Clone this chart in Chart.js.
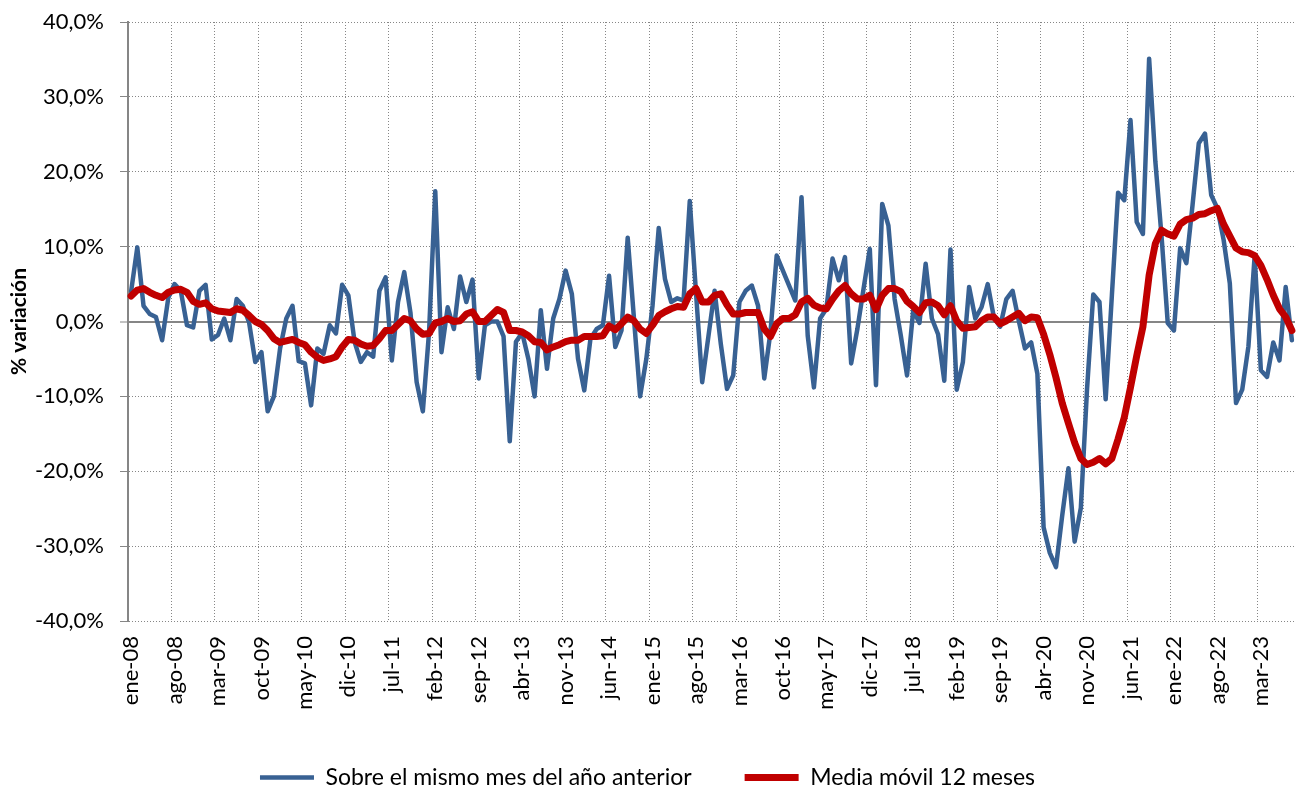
<!DOCTYPE html>
<html>
<head>
<meta charset="utf-8">
<script src="https://cdn.jsdelivr.net/npm/chart.js@4/dist/chart.umd.min.js"></script>
<style>
  body { margin: 0; background: #fff; }
</style>
</head>
<body>
<canvas id="variacionChart" width="1304" height="789"></canvas>
<script>
// Month names and years used to build the category labels (ene-08 .. ago-23)
const monthNames = ['ene', 'feb', 'mar', 'abr', 'may', 'jun', 'jul', 'ago', 'sep', 'oct', 'nov', 'dic'];
const firstYear = 2008;
const monthCount = 188;
const labelStep = 7; // one label every 7 months

// % variation over the same month of the previous year
const sameMonthValues = [
    4.0, 9.9, 2.1, 1.0, 0.6, -2.5, 3.2, 5.0, 4.1, -0.5, -0.8, 4.1,
    4.9, -2.4, -1.8, 0.4, -2.5, 3.0, 2.1, -0.1, -5.4, -4.1, -12.0, -10.0,
    -3.6, 0.4, 2.1, -5.3, -5.6, -11.2, -3.6, -4.3, -0.5, -1.6, 4.9, 3.5,
    -2.7, -5.4, -4.1, -4.7, 4.1, 5.9, -5.2, 2.6, 6.6, 1.2, -8.1, -12.0,
    -1.4, 17.4, -4.1, 1.9, -1.0, 6.0, 2.6, 5.6, -7.6, -0.5, 0.0, 0.0,
    -2.0, -16.0, -2.7, -1.5, -5.0, -10.0, 1.5, -6.3, 0.4, 3.0, 6.8, 3.7,
    -5.0, -9.2, -2.3, -1.0, -0.5, 6.1, -3.4, -1.2, 11.2, 0.5, -10.0, -5.0,
    2.1, 12.5, 5.7, 2.6, 3.1, 2.8, 16.1, 3.9, -8.1, -2.0, 4.1, -3.0,
    -9.0, -7.2, 2.6, 4.1, 4.8, 2.1, -7.6, -1.4, 8.8, 6.8, 4.8, 2.8,
    16.6, -1.9, -8.8, 0.4, 1.7, 8.4, 5.5, 8.6, -5.6, -1.0, 4.4, 9.7,
    -8.5, 15.7, 12.8, 3.0, -1.9, -7.2, 1.5, -0.2, 7.7, 0.4, -1.7, -7.9,
    9.6, -9.1, -5.4, 4.6, 0.4, 1.9, 5.0, 0.5, -0.7, 3.0, 4.1, 0.1,
    -3.6, -2.8, -7.0, -27.5, -30.9, -32.8, -25.9, -19.6, -29.4, -24.9, -9.0, 3.6,
    2.6, -10.4, 3.5, 17.2, 16.2, 26.9, 13.3, 11.7, 35.1, 21.4, 11.4, -0.2,
    -1.2, 9.8, 7.8, 15.6, 23.8, 25.1, 16.9, 15.1, 10.9, 5.1, -10.9, -9.1,
    -3.3, 8.8, -6.5, -7.4, -2.8, -5.2, 4.6, -2.5
];

// 12-month moving average
const movingAvgValues = [
    3.4, 4.2, 4.4, 3.9, 3.5, 3.2, 3.9, 4.2, 4.3, 3.9, 2.7, 2.3,
    2.5, 1.7, 1.4, 1.3, 1.2, 1.7, 1.5, 0.8, 0.0, -0.4, -1.2, -2.3,
    -2.8, -2.6, -2.4, -2.8, -3.1, -4.1, -4.8, -5.2, -5.0, -4.7, -3.4, -2.4,
    -2.5, -3.0, -3.3, -3.2, -2.3, -1.2, -1.2, -0.4, 0.4, 0.1, -1.0, -1.7,
    -1.6, -0.2, 0.0, 0.4, 0.0, 0.1, 1.0, 1.3, 0.0, 0.0, 0.8, 1.6,
    1.2, -1.2, -1.2, -1.4, -1.9, -2.7, -2.8, -3.8, -3.4, -3.1, -2.7, -2.5,
    -2.5, -2.0, -2.0, -2.0, -1.9, -0.6, -1.1, -0.3, 0.6, 0.1, -1.0, -1.6,
    -0.5, 0.8, 1.3, 1.7, 2.0, 1.9, 3.7, 4.4, 2.6, 2.6, 3.5, 3.7,
    2.2, 1.0, 1.0, 1.2, 1.2, 1.2, -1.0, -2.0, -0.3, 0.4, 0.4, 0.9,
    2.6, 3.1, 2.2, 1.8, 1.7, 3.0, 4.1, 4.8, 3.7, 3.0, 3.0, 3.5,
    1.6, 3.5, 4.4, 4.4, 4.0, 2.7, 2.0, 1.2, 2.5, 2.6, 2.1, 0.9,
    2.1, 0.1, -0.9, -0.8, -0.7, 0.1, 0.6, 0.6, -0.3, 0.1, 0.6, 1.1,
    0.1, 0.6, 0.5, -1.7, -4.4, -7.5, -10.9, -13.6, -16.2, -18.3, -19.1, -18.8,
    -18.3, -19.0, -18.3, -15.7, -12.8, -8.8, -4.6, -0.7, 6.2, 10.4, 12.2, 11.7,
    11.4, 13.0, 13.6, 13.8, 14.3, 14.4, 14.8, 15.1, 13.0, 11.4, 9.8, 9.3,
    9.2, 8.8, 7.5, 5.6, 3.5, 1.7, 0.6, -1.2
];

// y axis range (in %)
const yMin = -40;
const yMax = 40;
const yStep = 10;

// Build the month labels
const categories = [];
for (let i = 0; i < monthCount; i++) {
    const yy = String((firstYear + Math.floor(i / 12)) % 100).padStart(2, '0');
    categories.push(monthNames[i % 12] + '-' + yy);
}

const gridGray = '#868686';
const fontFamily = 'Lato, "Liberation Sans", sans-serif';

document.addEventListener('DOMContentLoaded', function () {
    const ctx = document.getElementById('variacionChart').getContext('2d');

    new Chart(ctx, {
        type: 'line',
        data: {
            labels: categories,
            datasets: [
                {
                    label: 'Sobre el mismo mes del año anterior',
                    data: sameMonthValues,
                    borderColor: '#386193',
                    backgroundColor: '#386193',
                    borderWidth: 4.5,
                    pointRadius: 0,
                    tension: 0,
                    borderJoinStyle: 'round',
                    borderCapStyle: 'round',
                    order: 1
                },
                {
                    label: 'Media móvil 12 meses',
                    data: movingAvgValues,
                    borderColor: '#C00000',
                    backgroundColor: '#C00000',
                    borderWidth: 7,
                    pointRadius: 0,
                    tension: 0,
                    borderJoinStyle: 'round',
                    borderCapStyle: 'round',
                    order: 0 // drawn on top
                }
            ]
        },
        options: {
            responsive: false,
            animation: false,
            layout: {
                padding: { left: 0, right: 9, top: 22, bottom: -10 }
            },
            scales: {
                x: {
                    offset: true,
                    afterFit: function (scale) {
                        scale.height = 92;
                        scale.paddingLeft = 0;
                        scale.paddingRight = 0;
                    },
                    border: {
                        display: false,
                        dash: function (c) {
                            return (c.index === monthCount) ? [] : [1, 2];
                        }
                    },
                    grid: {
                        offset: true,
                        drawTicks: false,
                        lineWidth: function (c) { return c.index === monthCount ? 2 : 1; },
                        color: function (c) {
                            if (c.index === 0) return 'rgba(0,0,0,0)';
                            if (c.index === monthCount) return gridGray;
                            return (c.index % labelStep === 0) ? gridGray : 'rgba(0,0,0,0)';
                        }
                    },
                    ticks: {
                        autoSkip: false,
                        maxRotation: 90,
                        minRotation: 90,
                        padding: 15,
                        color: '#000',
                        font: { family: fontFamily, size: 22 },
                        callback: function (value, index) {
                            return index % labelStep === 0 ? categories[index] : '';
                        }
                    }
                },
                y: {
                    min: yMin,
                    max: yMax,
                    afterFit: function (scale) {
                        scale.width = 128;
                        scale.paddingTop = 0;
                        scale.paddingBottom = 0;
                    },
                    border: {
                        display: true,
                        color: gridGray,
                        width: 2,
                        dash: function (c) {
                            return (c.tick && c.tick.value === 0) ? [] : [1, 2];
                        }
                    },
                    grid: {
                        color: gridGray,
                        lineWidth: function (c) { return (c.tick && c.tick.value === 0) ? 2 : 1; },
                        drawTicks: true,
                        tickLength: 8,
                        tickColor: gridGray,
                        tickWidth: 1
                    },
                    title: {
                        display: true,
                        text: '% variación',
                        color: '#000',
                        padding: { top: 7, bottom: 0 },
                        font: { family: fontFamily, size: 21, weight: 'bold' }
                    },
                    ticks: {
                        stepSize: yStep,
                        padding: 16,
                        color: '#000',
                        font: { family: fontFamily, size: 22 },
                        callback: function (value) {
                            return value.toFixed(1).replace('.', ',') + '%';
                        }
                    }
                }
            },
            plugins: {
                tooltip: { enabled: false },
                legend: {
                    display: true,
                    position: 'bottom',
                    labels: {
                        usePointStyle: true,
                        pointStyle: 'line',
                        pointStyleWidth: 54,
                        padding: 53,
                        color: '#000',
                        font: { family: fontFamily, size: 23 },
                        sort: function (a, b) { return a.datasetIndex - b.datasetIndex; }
                    }
                }
            }
        }
    });
});
</script>
</body>
</html>
